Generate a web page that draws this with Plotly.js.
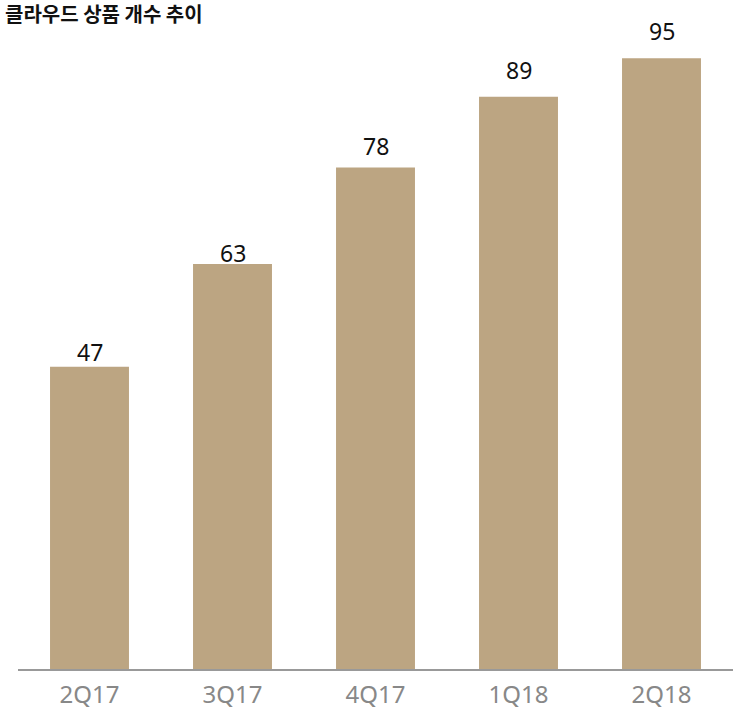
<!DOCTYPE html>
<html>
<head>
<meta charset="utf-8">
<script src="https://cdn.plot.ly/plotly-3.0.1.min.js"></script>
<style>html,body{margin:0;padding:0;background:#fff;}#chart{width:738px;height:713px;}</style>
</head>
<body>
<div id="chart"></div>
<script>
const categories = ["2Q17", "3Q17", "4Q17", "1Q18", "2Q18"];
const productCounts = [47, 63, 78, 89, 95];
const chartTitle = "클라우드 상품 개수 추이";

// style: pixel gap between bar top and its value label (as in the reference)
const labelGapPx = [6, 2, 12, 18, 18];

const trace = {
  type: "bar",
  x: categories,
  y: productCounts,
  marker: {color: "#BCA582"},
  hoverinfo: "none"
};

const annotations = categories.map((c, i) => ({
  x: c, y: productCounts[i], xref: "x", yref: "y",
  text: String(productCounts[i]),
  showarrow: false,
  yanchor: "middle",
  yshift: labelGapPx[i] + 9,
  font: {family: "Noto Sans, sans-serif", size: 23, color: "#111"}
}));

// chart title as a paper annotation placed at the top-left corner
annotations.push({
  xref: "paper", yref: "paper",
  x: -0.021, y: 1.02, xanchor: "left", yanchor: "middle",
  text: "<b>" + chartTitle + "</b>",
  showarrow: false,
  font: {family: "Noto Sans CJK KR, sans-serif", size: 20, color: "#111"}
});

const layout = {
  width: 738,
  height: 713,
  margin: {l: 18, r: 5, t: 26, b: 44},
  paper_bgcolor: "#fff",
  plot_bgcolor: "#fff",
  bargap: 0.448,
  showlegend: false,
  annotations: annotations,
  xaxis: {
    showline: true, linecolor: "#999", linewidth: 2,
    ticks: "", showgrid: false, zeroline: false,
    ticklabelstandoff: 3,
    tickfont: {family: "Noto Sans, sans-serif", size: 24, color: "#888"}
  },
  yaxis: {
    range: [0, 100], visible: false, showgrid: false, zeroline: false
  }
};

Plotly.newPlot("chart", [trace], layout, {displayModeBar: false, staticPlot: true});
</script>
</body>
</html>
